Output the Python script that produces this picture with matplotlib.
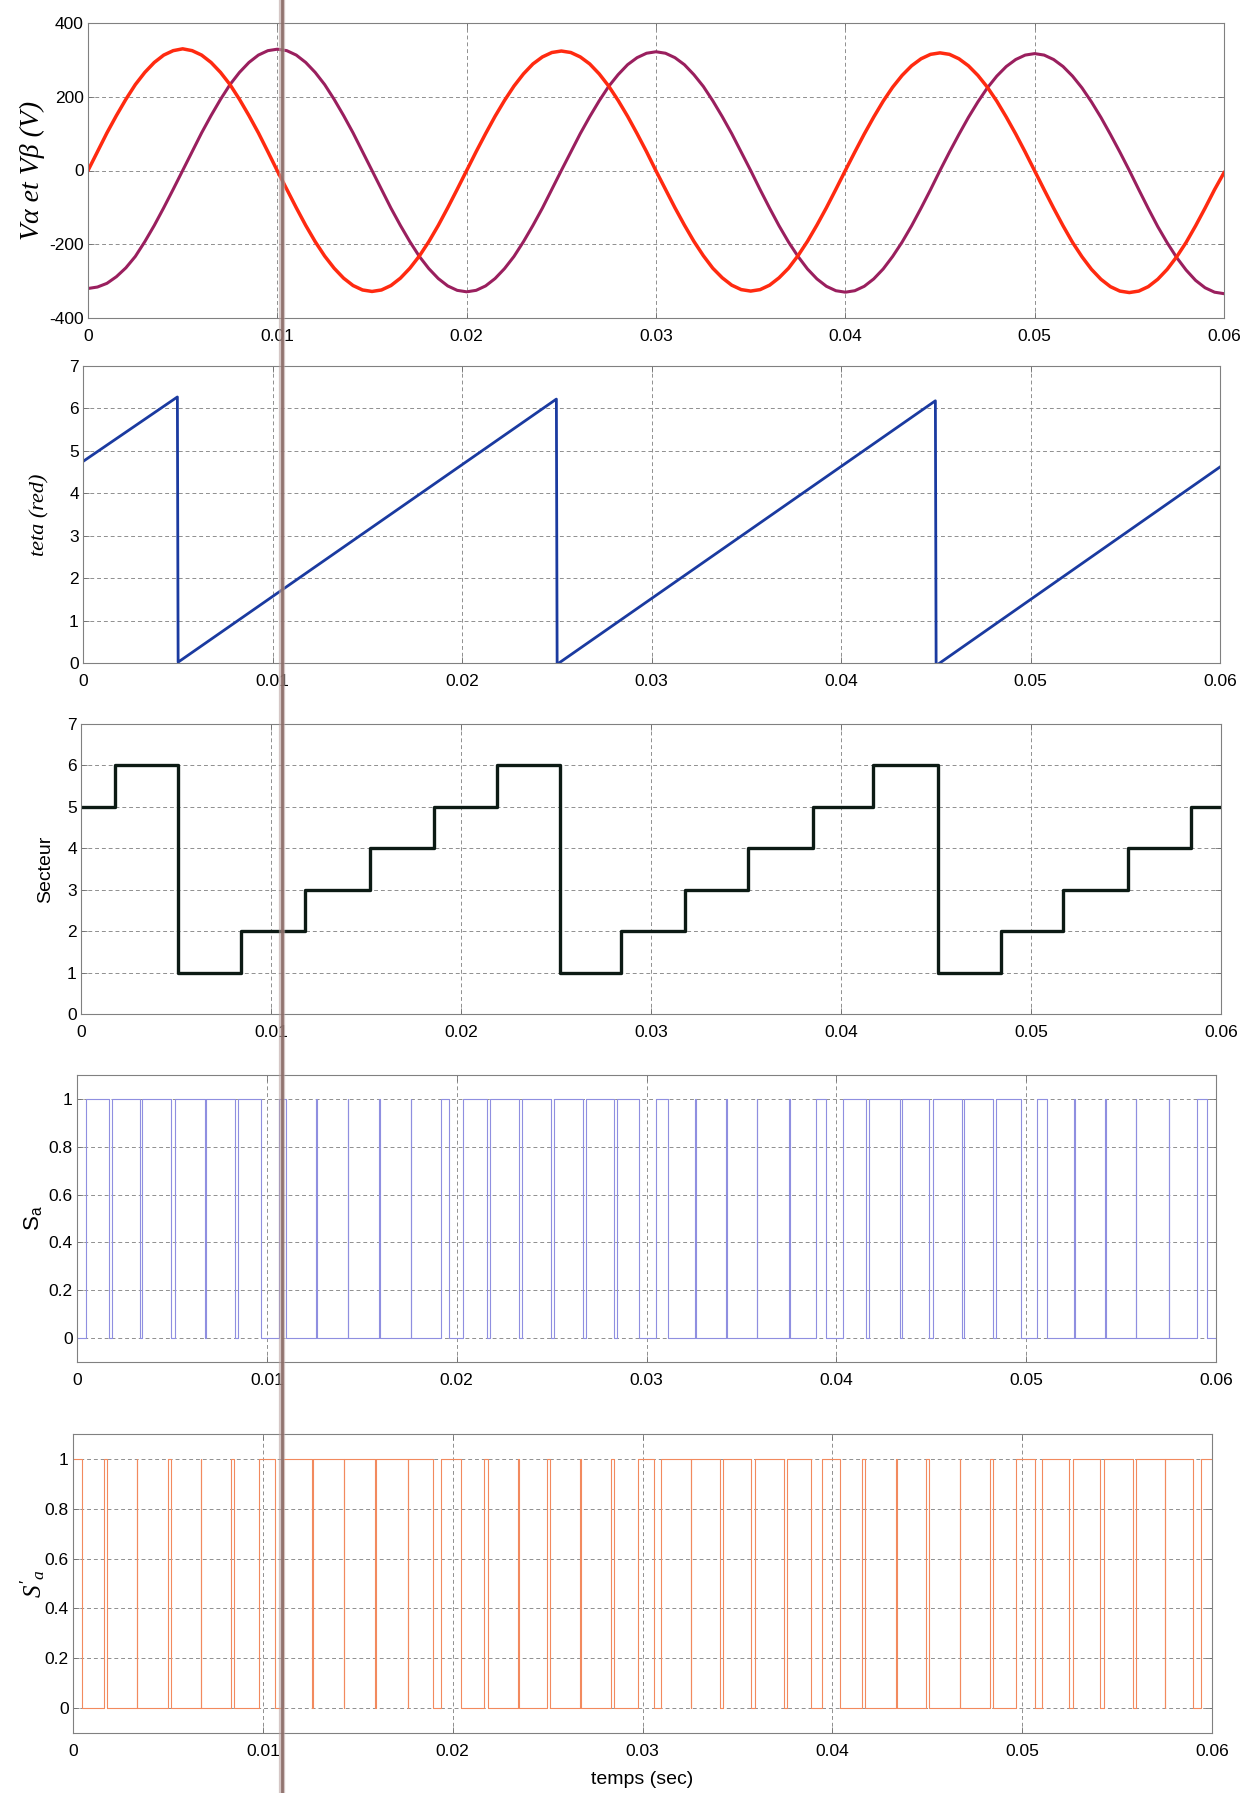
import matplotlib
matplotlib.use("Agg")
import matplotlib.pyplot as plt
from matplotlib.lines import Line2D
import numpy as np

plt.rcParams["font.family"] = ["Liberation Sans", "DejaVu Sans"]
plt.rcParams["mathtext.fontset"] = "custom"
plt.rcParams["mathtext.rm"] = "Liberation Sans"
plt.rcParams["mathtext.it"] = "Liberation Serif:italic"

# ---- data ----
# voltages sampled every 0.5 ms (V)
t_v = np.linspace(0, 0.06, 121)
v_alpha = [0, 51, 102, 149, 193, 233, 266, 293, 313, 325,
           330, 325, 313, 293, 266, 233, 193, 149, 102, 51,
           -1, -51, -101, -149, -193, -232, -265, -292, -312, -324,
           -328, -324, -312, -292, -265, -232, -193, -149, -101, -51,
           0, 51, 100, 147, 190, 229, 262, 289, 308, 320,
           324, 320, 308, 289, 262, 229, 190, 147, 100, 51,
           -1, -51, -101, -148, -192, -231, -265, -291, -311, -323,
           -327, -323, -311, -291, -265, -231, -192, -148, -101, -51,
           0, 50, 99, 145, 188, 226, 258, 284, 303, 315,
           319, 315, 303, 284, 258, 226, 188, 145, 99, 50,
           -1, -52, -102, -150, -195, -234, -268, -295, -315, -327,
           -331, -327, -315, -295, -268, -234, -195, -150, -102, -52,
           -6]
v_beta = [-320, -316, -306, -288, -264, -233, -193, -149, -101, -51,
          0, 51, 102, 149, 193, 233, 266, 293, 313, 325,
          329, 325, 313, 293, 266, 233, 193, 149, 102, 51,
          0, -51, -102, -149, -193, -233, -266, -293, -313, -325,
          -329, -325, -313, -293, -266, -233, -193, -149, -102, -51,
          0, 50, 100, 146, 189, 228, 260, 287, 306, 318,
          322, 318, 306, 287, 260, 228, 189, 146, 100, 50,
          0, -52, -102, -150, -194, -233, -267, -294, -314, -326,
          -330, -326, -314, -294, -267, -233, -194, -150, -102, -52,
          0, 50, 98, 144, 186, 224, 256, 282, 301, 313,
          317, 313, 301, 282, 256, 224, 186, 144, 98, 50,
          0, -52, -103, -152, -196, -236, -270, -298, -318, -330,
          -334]

# angle (rad): vertices of the sawtooth
teta_t = [0, 0.00498, 0.00502, 0.02498, 0.02502, 0.04498, 0.04502, 0.06]
teta = [4.75, 6.27, 0.02, 6.22, -0.03, 6.18, -0.06, 4.62]

# sector number, changes at these times
sect_t = [0, 0.0018, 0.0051, 0.0084, 0.0118, 0.0152, 0.0186, 0.0219, 0.0252,
          0.0284, 0.0318, 0.0351, 0.0385, 0.0417, 0.0451, 0.0484, 0.0517,
          0.0551, 0.0584, 0.06]
sect = [5, 6, 1, 2, 3, 4, 5, 6, 1, 2, 3, 4, 5, 6, 1, 2, 3, 4, 5, 5]

# switching signals: initial state and toggle instants (s)
sa_start = 0
sa_edges = [0.00047, 0.00168, 0.00182, 0.00331, 0.00345, 0.00497, 0.00515,
            0.00672, 0.00681, 0.0083, 0.00847, 0.0097, 0.01066, 0.011,
            0.01259, 0.01262, 0.01425, 0.01428, 0.01591, 0.01594, 0.01758,
            0.01761, 0.01915, 0.01959, 0.02031, 0.02159, 0.02176, 0.02328,
            0.02346, 0.02495, 0.02512, 0.02666, 0.02679, 0.02827, 0.02845,
            0.02959, 0.0305, 0.03112, 0.03256, 0.03259, 0.03419, 0.03422,
            0.0358, 0.03583, 0.03752, 0.03755, 0.03895, 0.03948, 0.04035,
            0.04154, 0.04172, 0.04333, 0.04347, 0.0449, 0.04508, 0.04662,
            0.04674, 0.04823, 0.04841, 0.04972, 0.05058, 0.05112, 0.05252,
            0.05255, 0.05415, 0.05418, 0.05576, 0.05579, 0.05751, 0.05754,
            0.059, 0.05952]
spa_start = 1
spa_edges = [0.00047, 0.00161, 0.00177, 0.00336, 0.00339, 0.00501, 0.00517,
             0.00673, 0.00676, 0.00834, 0.0085, 0.00979, 0.01063, 0.01105,
             0.0126, 0.01263, 0.01426, 0.01429, 0.01592, 0.01595, 0.01764,
             0.01767, 0.01899, 0.01939, 0.02043, 0.02165, 0.02186, 0.02344,
             0.02347, 0.02498, 0.02515, 0.02673, 0.02676, 0.02834, 0.02852,
             0.02974, 0.03058, 0.03097, 0.03254, 0.03257, 0.03409, 0.03426,
             0.03573, 0.0359, 0.03745, 0.03759, 0.03889, 0.03946, 0.04039,
             0.04157, 0.04174, 0.04337, 0.0434, 0.04494, 0.04509, 0.0467,
             0.04673, 0.04831, 0.04845, 0.04967, 0.05067, 0.05103, 0.05248,
             0.05266, 0.05412, 0.05429, 0.05584, 0.05598, 0.0575, 0.05753,
             0.059, 0.05943]

xticks = [0, 0.01, 0.02, 0.03, 0.04, 0.05, 0.06]
xtick_labels = ["0", "0.01", "0.02", "0.03", "0.04", "0.05", "0.06"]


def toggles(start, edges):
    x = [0.0] + list(edges) + [0.06]
    y = [start]
    for _ in edges:
        y.append(1 - y[-1])
    y.append(y[-1])
    return x, y


W, H = 1251, 1793
fig = plt.figure(figsize=(W / 100, H / 100), dpi=100)


def make_ax(l, r, t, b):
    return fig.add_axes([l / W, 1 - b / H, (r - l) / W, (b - t) / H])


def style(ax, yt, ytl, ylim):
    ax.set_xlim(0, 0.06)
    ax.set_ylim(*ylim)
    ax.set_xticks(xticks)
    ax.set_xticklabels(xtick_labels)
    ax.set_yticks(yt)
    ax.set_yticklabels(ytl)
    ax.tick_params(axis="both", direction="in", top=True, right=True,
                   length=4, width=0.6, color="#707070", labelsize=12.5)
    ax.tick_params(axis="x", pad=8)
    ax.tick_params(axis="y", pad=3)
    ax.grid(True, color="#8f8f8f", linestyle=(0, (4, 3)), linewidth=0.7)
    for s in ax.spines.values():
        s.set_color("#808080")
        s.set_linewidth(0.8)


def place_ylabel(ax, text, cx, left, right, **kw):
    ax.set_ylabel(text, va="center", ha="center", **kw)
    ax.yaxis.set_label_coords((cx - left) / (right - left), 0.5)


# panel 1: voltages
ax1 = make_ax(88, 1224, 23, 318)
ax1.plot(t_v, v_beta, color="#9a1f5e", lw=2.2)
ax1.plot(t_v, v_alpha, color="#ff2a10", lw=2.5)
style(ax1, [-400, -200, 0, 200, 400], ["-400", "-200", "0", "200", "400"], (-400, 400))
place_ylabel(ax1, "Vα et Vβ (V)", 32, 88, 1224,
             family="Liberation Serif", style="italic", fontsize=20)

# panel 2: angle
ax2 = make_ax(83, 1220, 366, 663)
ax2.plot(teta_t, teta, color="#1a3aa0", lw=2.0)
style(ax2, range(8), [str(i) for i in range(8)], (0, 7))
place_ylabel(ax2, "teta (red)", 40, 83, 1220,
             family="Liberation Serif", style="italic", fontsize=16)

# panel 3: sector
ax3 = make_ax(81, 1221, 724, 1014)
ax3.step(sect_t, sect, where="post", color="#0c1a14", lw=2.4)
style(ax3, range(8), [str(i) for i in range(8)], (0, 7))
place_ylabel(ax3, "Secteur", 46, 81, 1221, fontsize=14)

sw_yt = [0, 0.2, 0.4, 0.6, 0.8, 1]
sw_ytl = ["0", "0.2", "0.4", "0.6", "0.8", "1"]

# panel 4: Sa
ax4 = make_ax(77, 1216, 1075, 1362)
x4, y4 = toggles(sa_start, sa_edges)
ax4.step(x4, y4, where="post", color="#8f8fe0", lw=0.8)
style(ax4, sw_yt, sw_ytl, (-0.1, 1.1))
place_ylabel(ax4, r"S$_\mathrm{a}$", 33, 77, 1216, fontsize=16)

# panel 5: S'a
ax5 = make_ax(73, 1212, 1434, 1733)
x5, y5 = toggles(spa_start, spa_edges)
ax5.step(x5, y5, where="post", color="#f28a5e", lw=0.8)
style(ax5, sw_yt, sw_ytl, (-0.1, 1.1))
place_ylabel(ax5, r"$S'_a$", 33, 73, 1212, fontsize=18)
ax5.set_xlabel("temps (sec)", fontsize=14, va="center")
ax5.xaxis.set_label_coords(0.5, (1733 - 1779) / (1733 - 1434))

# fold line of the scanned page
fig.add_artist(Line2D([281.5 / W, 281.5 / W], [0, 1], transform=fig.transFigure,
                      color="#b9a3a0", lw=4.5, alpha=0.6, zorder=20))
fig.add_artist(Line2D([281.5 / W, 281.5 / W], [0, 1], transform=fig.transFigure,
                      color="#8a6b66", lw=2.0, alpha=0.9, zorder=21))

fig.savefig("out.png", dpi=100)
